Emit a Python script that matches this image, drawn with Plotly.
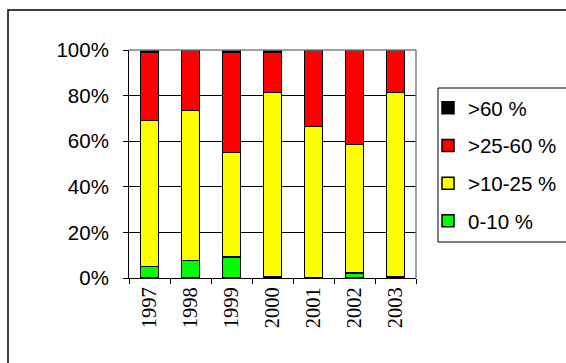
import plotly.graph_objects as go

# Share of samples per concentration class, by year (percent of total)
years = ["1997", "1998", "1999", "2000", "2001", "2002", "2003"]
class_0_10 = [5.0, 7.6, 9.3, 0.5, 0.0, 2.3, 0.5]
class_10_25 = [64.0, 65.8, 45.7, 80.9, 66.4, 56.2, 80.9]
class_25_60 = [29.8, 26.6, 43.8, 17.4, 33.6, 41.5, 18.6]
class_60 = [1.2, 0.0, 1.2, 1.2, 0.0, 0.0, 0.0]
y_ticks = [0, 20, 40, 60, 80, 100]
y_tick_labels = ["0%", "20%", "40%", "60%", "80%", "100%"]

series = [
    ("0-10 %", class_0_10, "#00FF00", 4),
    (">10-25 %", class_10_25, "#FFFF00", 3),
    (">25-60 %", class_25_60, "#FF0000", 2),
    (">60 %", class_60, "#000000", 1),
]

W, H = 566, 363
L, R, T, B = 129, 416, 50, 278  # plot area in pixels


def px_x(p):
    return (p - L) / (R - L)


def px_y(p):
    return (B - p) / (B - T)


fig = go.Figure()
for name, vals, col, rank in series:
    fig.add_trace(go.Bar(
        x=years, y=vals, name=name, legendrank=rank, legendgroup=name,
        marker=dict(color=col, line=dict(color="#000000", width=1.5)),
        width=0.44,
    ))

shapes = [
    # outer chart frame
    dict(type="rect", xref="paper", yref="paper",
         x0=px_x(8), x1=px_x(580), y0=px_y(380), y1=px_y(10),
         line=dict(color="#000000", width=1.5), layer="below"),
    # grey top and right edges of the plot area
    dict(type="line", xref="paper", yref="paper", x0=0, x1=1, y0=1, y1=1,
         line=dict(color="#808080", width=1.5)),
    dict(type="line", xref="paper", yref="paper", x0=1, x1=1, y0=0, y1=1,
         line=dict(color="#808080", width=1.5)),
    # legend frame
    dict(type="rect", xref="paper", yref="paper",
         x0=px_x(438), x1=px_x(580), y0=px_y(242), y1=px_y(88),
         line=dict(color="#000000", width=1), layer="below"),
]

fig.update_layout(
    width=W, height=H, autosize=False,
    margin=dict(l=L, r=W - R, t=T, b=H - B, pad=0),
    paper_bgcolor="white", plot_bgcolor="white",
    barmode="stack",
    font=dict(family="Liberation Sans, Arial", size=20.5, color="#000000"),
    showlegend=True,
    legend=dict(
        xref="container", yref="container",
        x=428 / W, xanchor="left", y=1 - 88 / H, yanchor="top",
        traceorder="grouped", tracegroupgap=8, itemwidth=30,
        font=dict(family="Liberation Sans, Arial", size=20.5, color="#000000"),
        bgcolor="rgba(0,0,0,0)", borderwidth=0,
    ),
    shapes=shapes,
    xaxis=dict(
        type="category", tickangle=-90,
        tickfont=dict(family="Liberation Serif, Times New Roman", size=20.5),
        showline=True, linecolor="#000000", linewidth=1,
        ticks="outside", ticklen=5, tickcolor="#000000", tickson="boundaries",
        showgrid=False, range=[-0.5, 6.5], fixedrange=True,
    ),
    yaxis=dict(
        range=[0, 100], tickmode="array", tickvals=y_ticks, ticktext=y_tick_labels,
        showline=True, linecolor="#000000", linewidth=1,
        ticks="outside", ticklen=5, tickcolor="#000000", ticklabelstandoff=10,
        showgrid=True, gridcolor="#000000", gridwidth=1,
        zeroline=False, fixedrange=True,
    ),
)

fig.write_html("out.html")
